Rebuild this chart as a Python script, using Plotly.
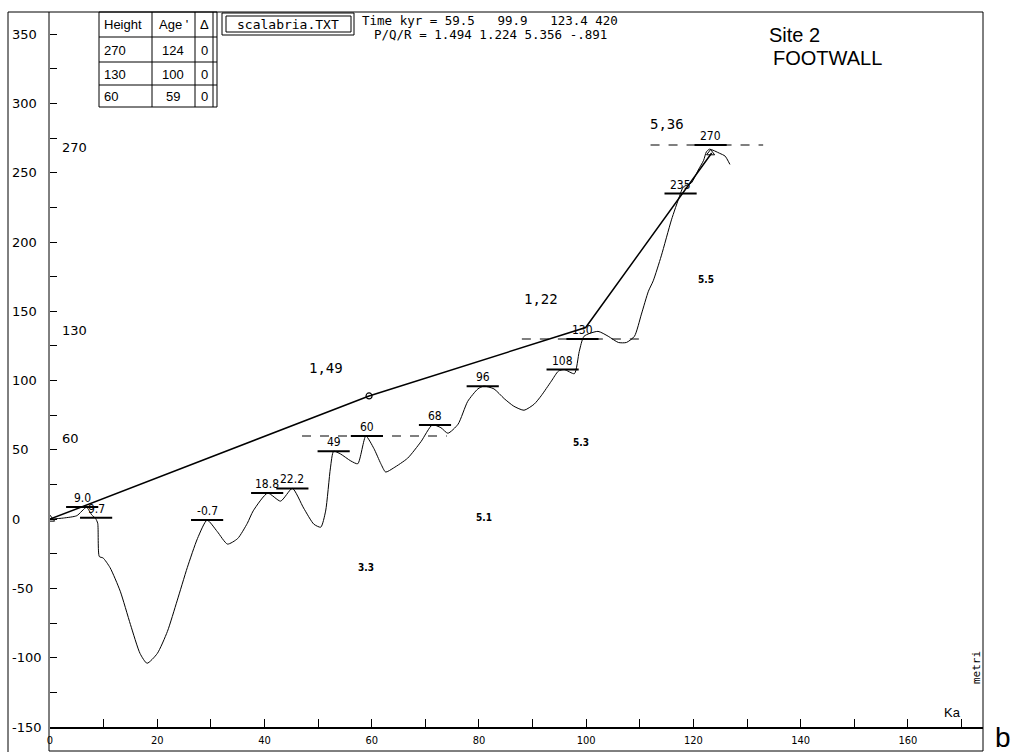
import plotly.graph_objects as go

# ---------------- data ----------------
curve_age = [0, 2.5, 5.0, 6.8, 7.8, 8.5, 8.9, 9.2, 9.9, 11.2, 13.1, 15.0, 16.8, 18.1, 20.0, 21.9,
             23.7, 25.6, 27.5, 29.3, 31.2, 33.1, 35.0, 36.8, 37.9, 40.6, 43.0, 45.2, 47.3,
             49.2, 50.5, 51.4, 52.3, 52.9, 54.2, 56.1, 57.4, 58.9, 60.4, 61.7, 62.6, 64.1,
             66.7, 69.2, 71.3, 72.9, 74.2, 76.1, 77.9, 79.8, 80.9, 82.8, 84.7, 86.5, 88.4,
             90.3, 91.6, 93.5, 94.8, 95.9, 97.8, 98.7, 99.6, 102.2, 104.1, 106.0, 107.5,
             109.0, 110.3, 111.6, 112.5, 114.0, 115.9, 117.4, 118.1, 119.6, 120.9, 121.9,
             122.4, 123.0, 124.9, 125.9, 126.8]
curve_height = [0, 0.8, 2.5, 8.5, 3, 0.5, -3, -27, -28, -35, -52, -76, -97, -104, -97, -81,
                -59, -35, -14, -0.7, -9, -18, -14, -3, 6, 18.8, 13, 22.2, 8,
                -3.6, -5.8, 5.8, 37, 49, 47, 42, 40, 60, 51, 40, 34, 37,
                44, 56, 68, 66, 62, 68.5, 85, 94, 96, 94, 87, 81.5, 78.6,
                83, 89, 99.6, 106.8, 108, 105, 121, 132, 135.5, 132, 127.5, 127.5,
                132, 148, 164.5, 172, 190, 216, 233, 239.7, 242.6, 252, 259,
                265, 267, 264, 262, 256]

uplift_age = [0, 59.5, 99.9, 123.4]
uplift_height = [0, 88.9, 138.3, 264.2]

peak_age = [6.0, 8.6, 29.3, 40.5, 45.2, 52.9, 59.1, 71.8, 80.7, 95.6, 99.3, 117.6, 123.2]
peak_level = [8.7, 1.0, -0.7, 18.8, 22.2, 49, 60, 68, 96, 108, 130, 235, 270]
peak_text = ["9.0", "9.7", "-0.7", "18.8", "22.2", "49", "60", "68", "96", "108", "130", "235", "270"]

terrace_h = [60, 130, 270]
terrace_from = [47.0, 88.0, 112.0]
terrace_to = [74.0, 110.0, 133.0]

rate_text = ["1,49", "1,22", "5,36"]
rate_age = [51.4, 91.6, 115.0]
rate_h = [109, 159, 285]

stage_text = ["5.5", "5.3", "5.1", "3.3"]
stage_age = [122.4, 99.0, 81.0, 59.0]
stage_h = [173, 55.5, 1.4, -35]

side_text = ["270", "130", "60"]
side_h = [268, 136, 58]

y_tick_vals = [350, 300, 250, 200, 150, 100, 50, 0, -50, -100, -150]
x_tick_vals = list(range(0, 171, 10))
x_tick_text = [str(v) if v % 20 == 0 else "" for v in x_tick_vals]

table_header = ["Height", "Age '", "\u0394"]
table_height = ["270", "130", "60"]
table_age = ["124", "100", "59"]
table_delta = ["0", "0", "0"]

time_line = "Time kyr = 59.5   99.9   123.4 420"
pqr_line = "P/Q/R = 1.494 1.224 5.356 -.891"

# ---------------- geometry helpers ----------------
L, R, T, B = 50, 983, 12, 727
W, H = 1011, 752


def px(x):
    return (x - L) / (R - L)


def py(y):
    return (B - y) / (B - T)


fig = go.Figure()

fig.add_trace(go.Scatter(x=curve_age, y=curve_height, mode="lines",
                         line=dict(color="black", width=1, shape="spline", smoothing=0.6),
                         hoverinfo="skip", showlegend=False))
fig.add_trace(go.Scatter(x=uplift_age, y=uplift_height, mode="lines",
                         line=dict(color="black", width=1.5),
                         hoverinfo="skip", showlegend=False))
fig.add_trace(go.Scatter(x=[uplift_age[0]], y=[uplift_height[0]], mode="markers",
                         marker=dict(symbol="triangle-up-open", size=8, color="black", line=dict(width=1)),
                         showlegend=False, hoverinfo="skip"))
fig.add_trace(go.Scatter(x=[uplift_age[1]], y=[uplift_height[1]], mode="markers",
                         marker=dict(symbol="circle-open", size=6, color="black", line=dict(width=1.2)),
                         showlegend=False, hoverinfo="skip"))
fig.add_trace(go.Scatter(x=[peak_age[-1]], y=[uplift_height[-1]], mode="markers",
                         marker=dict(symbol="triangle-up-open", size=7, color="black", line=dict(width=1)),
                         showlegend=False, hoverinfo="skip"))

shapes = []
annotations = []


def note(x, y, text, font, xanchor="center", yanchor="middle", xref="paper", yref="paper", **kw):
    annotations.append(dict(x=x, y=y, xref=xref, yref=yref, text=text, showarrow=False,
                            xanchor=xanchor, yanchor=yanchor, font=font, **kw))


for h, a0, a1 in zip(terrace_h, terrace_from, terrace_to):
    shapes.append(dict(type="line", xref="x", yref="y", x0=a0, x1=a1, y0=h, y1=h,
                       line=dict(color="black", width=1.2, dash="dash")))

for a, lv, t in zip(peak_age, peak_level, peak_text):
    shapes.append(dict(type="line", xref="x", yref="y", x0=a - 3.0, x1=a + 3.0, y0=lv, y1=lv,
                       line=dict(color="black", width=2)))
    note(a, lv, t, dict(family="DejaVu Sans Condensed", size=12, color="black"),
         yanchor="bottom", xref="x", yref="y")

for t, a, h in zip(rate_text, rate_age, rate_h):
    note(a, h, t, dict(family="DejaVu Sans Mono", size=14, color="black"), xref="x", yref="y")

for t, a, h in zip(stage_text, stage_age, stage_h):
    note(a, h, "<b>" + t + "</b>", dict(family="DejaVu Sans Condensed", size=10, color="black"),
         xref="x", yref="y")

for t, h in zip(side_text, side_h):
    note(px(60), h, t, dict(family="DejaVu Sans", size=13, color="black"), xanchor="left", yref="y")

for v in y_tick_vals:
    note(px(10), v, str(v), dict(family="DejaVu Sans", size=13, color="black"), xanchor="left", yref="y")


def pline(x0, y0, x1, y1, w=1):
    shapes.append(dict(type="line", xref="paper", yref="paper", x0=px(x0), x1=px(x1),
                       y0=py(y0), y1=py(y1), line=dict(color="black", width=w)))


pline(8, 12, 8, 752)
pline(8, 12, 983, 12)
pline(983, 12, 983, 751)
pline(49, 12, 49, 751)
pline(49, 751, 983, 751)

# table
col_x = [99, 152, 195, 213]
row_y = [12, 37, 62, 85, 107]
for cx in col_x:
    pline(cx, 12, cx, 107)
pline(217, 12, 217, 107)
for ry in row_y:
    pline(99, ry, 217, ry)

row_c = [24, 50, 74, 96]
col_txt = [(102, "left"), (173, "center"), (204, "center")]
tfont = dict(family="Liberation Sans", size=13, color="black")
for (cx, anc), t in zip(col_txt, table_header):
    note(px(cx), py(row_c[0]), t, tfont, xanchor=anc)
for i in range(3):
    for (cx, anc), t in zip(col_txt, [table_height[i], table_age[i], table_delta[i]]):
        note(px(cx), py(row_c[i + 1]), t, tfont, xanchor=anc)

for (x0, y0, x1, y1) in [(222, 13, 354, 35), (226, 16, 351, 32)]:
    shapes.append(dict(type="rect", xref="paper", yref="paper", x0=px(x0), x1=px(x1),
                       y0=py(y1), y1=py(y0), line=dict(color="black", width=1)))
note(px(288), py(24), "scalabria.TXT", dict(family="DejaVu Sans Mono", size=13, color="black"))

mono = dict(family="DejaVu Sans Mono", size=12.5, color="black")
note(px(360), py(21), time_line.replace(" ", "&nbsp;"), mono, xanchor="left")
note(px(372), py(35), pqr_line.replace(" ", "&nbsp;"), mono, xanchor="left")

big = dict(family="Liberation Sans", size=20, color="black")
note(px(767), py(35), "Site 2", big, xanchor="left")
note(px(771), py(58), "FOOTWALL", big, xanchor="left")

note(px(952), py(712), "Ka", dict(family="Liberation Sans", size=13, color="black"))
note(px(976), py(668), "metri", dict(family="DejaVu Sans Mono", size=11, color="black"), textangle=-90)
note(px(1003), py(737), "b", dict(family="Liberation Sans", size=28, color="black"))

fig.update_layout(
    width=W, height=H,
    margin=dict(l=L, r=W - R, t=T, b=H - B, autoexpand=False),
    paper_bgcolor="white", plot_bgcolor="white",
    showlegend=False,
    shapes=shapes, annotations=annotations,
    xaxis=dict(range=[0, 174], showgrid=False, zeroline=False, showline=True, linecolor="black",
               linewidth=2, ticks="inside", ticklen=8, tickcolor="black", tickvals=x_tick_vals,
               ticktext=x_tick_text, ticklabelstandoff=2, automargin=False,
               tickfont=dict(family="DejaVu Sans Condensed", size=11, color="black")),
    yaxis=dict(range=[-150, 366], showgrid=False, zeroline=False, showline=False, automargin=False,
               ticks="inside", ticklen=7, tickcolor="black", tickvals=list(range(-150, 351, 25)),
               showticklabels=False),
)

fig.write_html("out.html")
